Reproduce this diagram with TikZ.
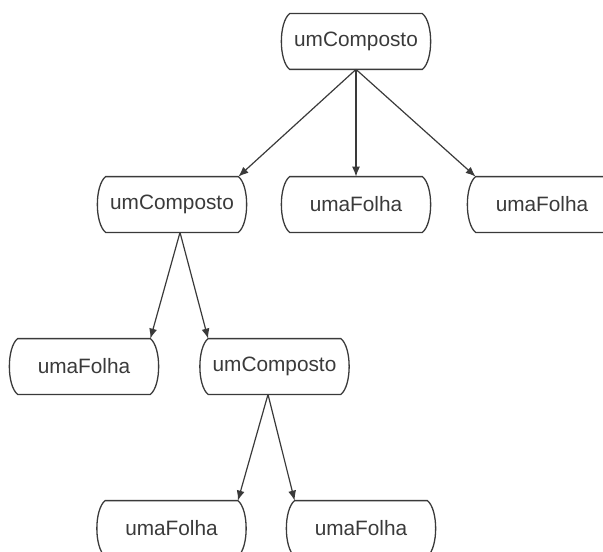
\documentclass[tikz,border=0pt]{standalone}
\usepackage{fontspec}
\setmainfont{Liberation Sans}
\usetikzlibrary{arrows.meta}
\definecolor{ink}{HTML}{3A3A3A}
\begin{document}
\begin{tikzpicture}[x=0.5pt,y=-0.5pt,
  obj/.style={rectangle,draw=none,inner sep=0pt,minimum width=66pt,
    minimum height=27.5pt,text=ink,font=\fontsize{10.4}{12}\selectfont},
  outline/.style={draw=ink,line width=0.65pt},
  link/.style={draw=ink,line width=0.6pt,-{Latex[length=5pt,width=4pt]}}]
\useasboundingbox (0,0) rectangle (603,551);

% objects of the composite structure
\node[obj] (root)   at (356,41.5)   {umComposto};
\node[obj] (compA)  at (172,204.5)  {umComposto};
\node[obj] (leafM)  at (356,204.5)  {umaFolha};
\node[obj] (leafR)  at (542,204.5)  {umaFolha};
\node[obj] (leafL)  at (84,366.5)   {umaFolha};
\node[obj] (compB)  at (274.5,366.5){umComposto};
\node[obj] (leafB1) at (171.5,528.5){umaFolha};
\node[obj] (leafB2) at (361,528.5)  {umaFolha};

% flat top and bottom, bulging sides
\foreach \n in {root,compA,leafM,leafR,leafL,compB,leafB1,leafB2}{
  \draw[outline] (\n.north west) -- (\n.north east)
    .. controls +(11,9) and +(11,-9) .. (\n.south east)
    -- (\n.south west)
    .. controls +(-11,-9) and +(-11,9) .. (\n.north west) -- cycle;
}

% points where the links leave the composites
\coordinate (outA) at ([xshift=4pt]compA.south);
\coordinate (outB) at ([xshift=-3.25pt]compB.south);

\draw[link] (root.south) -- (compA.north east);
\draw[link] (root.south) -- (leafM.north);
\draw[link] (root.south) -- (leafR.north west);
\draw[link] (outA) -- (leafL.north east);
\draw[link] (outA) -- (compB.north west);
\draw[link] (outB) -- (leafB1.north east);
\draw[link] (outB) -- (leafB2.north west);
\end{tikzpicture}
\end{document}
